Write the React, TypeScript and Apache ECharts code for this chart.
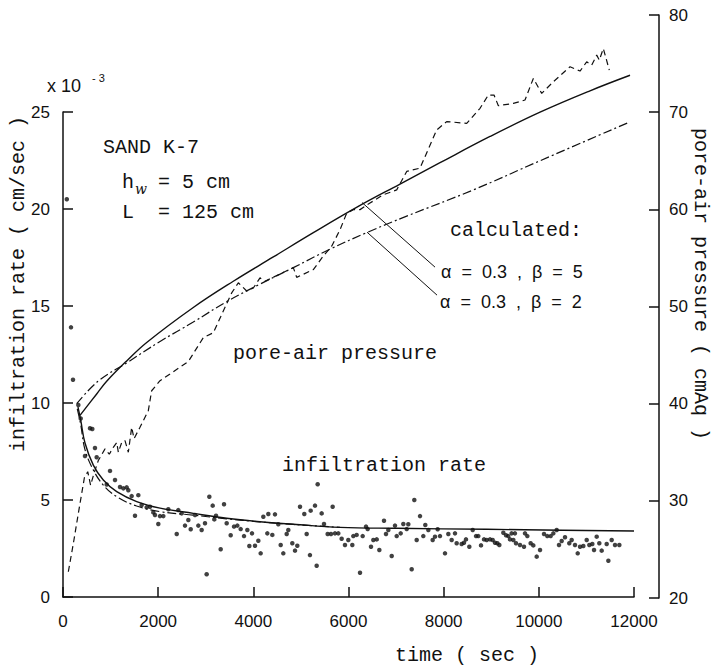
import React, { useEffect, useRef } from "react";
import * as echarts from "echarts";

// ---- data ----
const timeTickLabels = ["0", "2000", "4000", "6000", "8000", "10000", "12000"];
const rateTickLabels = ["0", "5", "10", "15", "20", "25"];
const pressureTickLabels = ["20", "30", "40", "50", "60", "70", "80"];

// measured infiltration rate (x 10^-3 cm/sec)
const rateT = [80, 168, 210, 322, 372, 462, 567, 616, 672, 708, 918, 988, 1093, 1198, 1268, 1338, 1373, 1443, 1513, 1583, 1653, 1758, 1828, 1898, 1933, 2003, 2038, 2108, 2213, 2390, 2423, 2494, 2564, 2634, 2684, 2774, 2844, 2914, 2984, 3019, 3075, 3146, 3180, 3216, 3314, 3384, 3440, 3524, 3594, 3664, 3734, 3804, 3874, 3916, 3972, 4035, 4105, 4154, 4210, 4294, 4315, 4399, 4455, 4525, 4575, 4630, 4701, 4735, 4819, 4876, 4924, 4981, 5071, 5121, 5190, 5205, 5296, 5331, 5352, 5436, 5485, 5562, 5632, 5667, 5716, 5786, 5856, 5926, 5996, 6080, 6101, 6171, 6242, 6298, 6368, 6403, 6473, 6522, 6593, 6648, 6746, 6788, 6837, 6908, 6977, 7013, 7097, 7152, 7223, 7257, 7328, 7383, 7433, 7503, 7572, 7614, 7678, 7769, 7818, 7874, 7923, 8028, 8098, 8168, 8238, 8273, 8378, 8427, 8469, 8539, 8610, 8680, 8728, 8785, 8848, 8904, 8974, 9030, 9079, 9128, 9170, 9254, 9310, 9358, 9394, 9428, 9464, 9498, 9520, 9604, 9688, 9709, 9758, 9828, 9884, 9955, 10025, 10109, 10178, 10249, 10305, 10375, 10424, 10480, 10550, 10640, 10690, 10760, 10817, 10866, 10935, 11006, 11061, 11124, 11160, 11216, 11271, 11321, 11426, 11461, 11531, 11601, 11692];
const rateV = [20.5, 13.9, 11.2, 9.9, 9.2, 7.27, 8.7, 8.66, 7.68, 7.2, 5.8, 6.5, 6.03, 5.67, 5.6, 5.65, 5.5, 5.2, 4.19, 5.25, 4.74, 4.62, 4.65, 4.36, 4.23, 3.76, 4.17, 4.17, 4.52, 3.25, 4.48, 4.31, 3.68, 3.97, 3.49, 4.23, 3.68, 3.45, 3.8, 1.17, 5.17, 4.71, 4.0, 4.19, 2.46, 4.78, 3.8, 3.18, 3.63, 3.68, 3.5, 3.14, 3.45, 2.63, 3.28, 2.64, 2.9, 2.25, 4.14, 3.28, 4.28, 3.2, 4.26, 3.75, 2.68, 2.25, 3.25, 3.45, 2.77, 2.39, 2.64, 4.65, 4.28, 3.25, 2.16, 4.45, 4.71, 1.61, 5.81, 4.31, 3.76, 3.25, 3.25, 4.65, 3.28, 3.28, 3.0, 2.68, 2.94, 2.68, 3.14, 3.2, 1.25, 3.14, 3.63, 3.5, 2.59, 2.94, 2.97, 2.42, 3.93, 3.25, 3.45, 2.11, 3.68, 3.14, 3.28, 3.76, 3.5, 3.75, 1.43, 5.0, 2.94, 4.17, 3.14, 3.71, 3.45, 2.94, 3.11, 3.49, 3.14, 2.25, 3.25, 2.94, 3.28, 2.77, 2.73, 2.8, 2.97, 2.59, 3.45, 3.14, 3.14, 2.66, 2.97, 2.94, 2.97, 2.94, 2.8, 2.77, 2.68, 3.31, 3.18, 3.14, 2.97, 3.28, 2.94, 3.28, 2.77, 2.68, 2.59, 3.28, 3.14, 2.77, 2.66, 2.08, 2.42, 3.25, 3.14, 3.14, 3.28, 3.45, 2.68, 2.89, 3.08, 2.77, 2.94, 2.68, 2.25, 2.59, 2.63, 2.94, 2.68, 2.73, 2.42, 3.11, 2.77, 2.39, 2.73, 1.87, 2.94, 2.68, 2.68];

// calculated infiltration rate, beta = 5 (solid)
const calcRate5T = [315, 372, 462, 637, 847, 1129, 1549, 2039, 2738, 3440, 4140, 4840, 5821, 7000, 8904, 10500, 12000];
const calcRate5V = [9.79, 9.12, 7.94, 6.8, 6.03, 5.43, 4.92, 4.58, 4.31, 4.06, 3.88, 3.75, 3.59, 3.54, 3.49, 3.44, 3.4];
// calculated infiltration rate, beta = 2 (dash-dot)
const calcRate2T = [300, 372, 462, 637, 847, 1129, 1549, 2039, 2738, 3440, 4140, 4840, 5821];
const calcRate2V = [9.7, 8.9, 7.6, 6.55, 5.77, 5.17, 4.69, 4.4, 4.22, 4.03, 3.87, 3.74, 3.59];

// measured pore-air pressure (cmAq)
const presT = [112, 217, 322, 450, 520, 580, 650, 742, 883, 973, 1057, 1129, 1163, 1233, 1303, 1373, 1443, 1493, 1618, 1793, 1863, 2039, 2249, 2634, 2949, 3159, 3369, 3545, 3685, 3860, 4000, 4140, 4245, 4840, 4911, 5261, 5471, 5646, 5821, 5962, 6101, 6242, 6452, 6731, 7013, 7223, 7503, 7853, 8063, 8484, 8764, 8938, 9058, 9149, 9464, 9709, 9884, 10060, 10304, 10655, 10866, 11005, 11111, 11216, 11271, 11355, 11481];
const presV = [22.7, 25.6, 28.7, 32.4, 33.0, 31.6, 32.8, 34.15, 35.35, 34.8, 35.5, 36.0, 35.0, 36.0, 36.2, 35.0, 37.57, 36.4, 37.57, 39.28, 41.33, 42.36, 43.05, 44.34, 46.8, 47.3, 49.54, 51.4, 52.44, 51.6, 51.9, 52.95, 52.6, 54.0, 53.0, 53.8, 55.2, 56.2, 57.9, 59.6, 59.97, 59.97, 60.65, 61.5, 62.0, 63.9, 64.24, 68.17, 69.03, 68.85, 70.4, 71.76, 71.76, 70.67, 70.9, 71.25, 73.47, 71.93, 73.13, 74.67, 74.23, 75.18, 74.84, 75.87, 75.36, 76.55, 74.33];

// calculated pore-air pressure, beta = 5 (solid)
const calcPres5T = [357, 708, 918, 1339, 1759, 2738, 3579, 4420, 5261, 6206, 7082, 7923, 8974, 10025, 11075, 11916];
const calcPres5V = [38.8, 41.0, 42.3, 44.4, 46.3, 49.9, 52.6, 55.1, 57.6, 60.3, 62.6, 64.8, 67.5, 70.0, 72.2, 73.8];
// calculated pore-air pressure, beta = 2 (dash-dot)
const calcPres2T = [288, 735, 1339, 2039, 2738, 3440, 4140, 4840, 5611, 6382, 7223, 8623, 10025, 11916];
const calcPres2V = [40.0, 42.3, 44.2, 46.4, 48.4, 50.5, 52.3, 54.0, 55.9, 57.6, 59.3, 62.0, 65.0, 69.0];

// leader lines (data coordinates on the pressure scale)
const leader5 = [[6284, 60.7], [7818, 54.05]];
const leader2 = [[6389, 57.65], [7860, 51.17]];

const zip = (a: number[], b: number[]) => a.map((v, i) => [v, b[i]]);

const INK = "#111";
const MONO = '"Liberation Mono", "DejaVu Sans Mono", monospace';
const SANS = '"Liberation Sans", Arial, sans-serif';

export default function App() {
  const ref = useRef<HTMLDivElement>(null);
  useEffect(() => {
    if (!ref.current) return;
    const chart = echarts.init(ref.current, undefined, { renderer: "svg" });
    const axisLine = { show: true, onZero: false, lineStyle: { color: INK, width: 1.5 } };
    const axisTick = { show: true, inside: true, length: 10, lineStyle: { color: INK, width: 1.5 } };
    const labelBase = { color: INK, fontFamily: SANS, fontSize: 17 };
    const monoText = (text: string, x: number, y: number, extra: any = {}) => ({
      type: "text",
      x,
      y,
      silent: true,
      style: { text, font: `20px ${MONO}`, fill: INK, align: "left", verticalAlign: "middle", ...extra },
    });
    const sansText = (text: string, x: number, y: number) => ({
      type: "text",
      x,
      y,
      silent: true,
      style: { text, font: `18px ${SANS}`, fill: INK, align: "left", verticalAlign: "middle" },
    });
    const option: any = {
      animation: false,
      backgroundColor: "#fff",
      grid: [
        { left: 63, top: 112, width: 571, height: 485 },
        { left: 63, top: 15, width: 596, height: 583 },
      ],
      xAxis: [
        {
          gridIndex: 0,
          type: "value",
          min: 0,
          max: 12000,
          interval: 2000,
          axisLine,
          axisTick,
          splitLine: { show: false },
          axisLabel: {
            ...labelBase,
            margin: 16,
            formatter: (v: number) => timeTickLabels[Math.round(v / 2000)] ?? "",
          },
        },
        { gridIndex: 1, type: "value", min: 0, max: 12525, show: false },
      ],
      yAxis: [
        {
          gridIndex: 0,
          type: "value",
          position: "left",
          min: 0,
          max: 25,
          interval: 5,
          axisLine,
          axisTick,
          splitLine: { show: false },
          axisLabel: {
            ...labelBase,
            margin: 13,
            formatter: (v: number) => rateTickLabels[Math.round(v / 5)] ?? "",
          },
        },
        {
          gridIndex: 1,
          type: "value",
          position: "right",
          min: 20,
          max: 80,
          interval: 10,
          axisLine,
          axisTick,
          splitLine: { show: false },
          axisLabel: {
            ...labelBase,
            margin: 10,
            formatter: (v: number) => pressureTickLabels[Math.round((v - 20) / 10)] ?? "",
          },
        },
      ],
      series: [
        {
          name: "infiltration rate (measured)",
          type: "scatter",
          xAxisIndex: 0,
          yAxisIndex: 0,
          symbol: "circle",
          symbolSize: 4.5,
          itemStyle: { color: INK },
          data: zip(rateT, rateV),
        },
        {
          name: "calc rate beta 5",
          type: "line",
          xAxisIndex: 0,
          yAxisIndex: 0,
          smooth: 0.4,
          showSymbol: false,
          lineStyle: { color: INK, width: 1.4, type: "solid" },
          data: zip(calcRate5T, calcRate5V),
        },
        {
          name: "calc rate beta 2",
          type: "line",
          xAxisIndex: 0,
          yAxisIndex: 0,
          smooth: 0.4,
          showSymbol: false,
          lineStyle: { color: INK, width: 1.2, type: [9, 3, 2, 3] },
          data: zip(calcRate2T, calcRate2V),
        },
        {
          name: "pore-air pressure (measured)",
          type: "line",
          xAxisIndex: 1,
          yAxisIndex: 1,
          showSymbol: false,
          lineStyle: { color: INK, width: 1.2, type: [6, 4] },
          data: zip(presT, presV),
        },
        {
          name: "calc pressure beta 5",
          type: "line",
          xAxisIndex: 1,
          yAxisIndex: 1,
          smooth: 0.4,
          showSymbol: false,
          lineStyle: { color: INK, width: 1.4, type: "solid" },
          data: zip(calcPres5T, calcPres5V),
          markLine: {
            silent: true,
            symbol: ["none", "none"],
            label: { show: false },
            lineStyle: { color: INK, width: 1, type: "solid" },
            data: [
              [{ coord: leader5[0] }, { coord: leader5[1] }],
              [{ coord: leader2[0] }, { coord: leader2[1] }],
            ],
          },
        },
        {
          name: "calc pressure beta 2",
          type: "line",
          xAxisIndex: 1,
          yAxisIndex: 1,
          smooth: 0.4,
          showSymbol: false,
          lineStyle: { color: INK, width: 1.2, type: [9, 3, 2, 3] },
          data: zip(calcPres2T, calcPres2V),
        },
      ],
      graphic: [
        { type: "text", x: 47, y: 86, silent: true, style: { text: "x 10", font: `18px ${SANS}`, fill: INK, align: "left", verticalAlign: "middle" } },
        { type: "text", x: 92, y: 78, silent: true, style: { text: "- 3", font: `11px ${SANS}`, fill: INK, align: "left", verticalAlign: "middle" } },
        monoText("SAND K-7", 103, 147),
        monoText("h", 122, 182),
        { type: "text", x: 135, y: 189, silent: true, style: { text: "w", font: `italic 14px "DejaVu Serif", serif`, fill: INK, align: "left", verticalAlign: "middle" } },
        monoText(" = 5 cm", 146, 182),
        monoText("L  = 125 cm", 122, 212),
        monoText("pore-air pressure", 233, 353),
        monoText("infiltration rate", 282, 465),
        monoText("calculated:", 450, 230),
        sansText("α  =  0.3  ,  β  =  5", 441, 272),
        sansText("α  =  0.3  ,  β  =  2", 440, 302),
        monoText("time ( sec )", 467, 655, { align: "center" }),
        {
          type: "text",
          x: 18,
          y: 284,
          rotation: Math.PI / 2,
          silent: true,
          style: { text: "infiltration rate ( cm/sec )", font: `20px ${MONO}`, fill: INK, align: "center", verticalAlign: "middle" },
        },
        {
          type: "text",
          x: 700,
          y: 284,
          rotation: -Math.PI / 2,
          silent: true,
          style: { text: "pore-air pressure ( cmAq )", font: `20px ${MONO}`, fill: INK, align: "center", verticalAlign: "middle" },
        },
      ],
    };
    chart.setOption(option);
    return () => chart.dispose();
  }, []);
  return (
    <div
      ref={ref}
      style={{ position: "fixed", left: 0, top: 0, width: 711, height: 666, background: "#fff" }}
    />
  );
}
